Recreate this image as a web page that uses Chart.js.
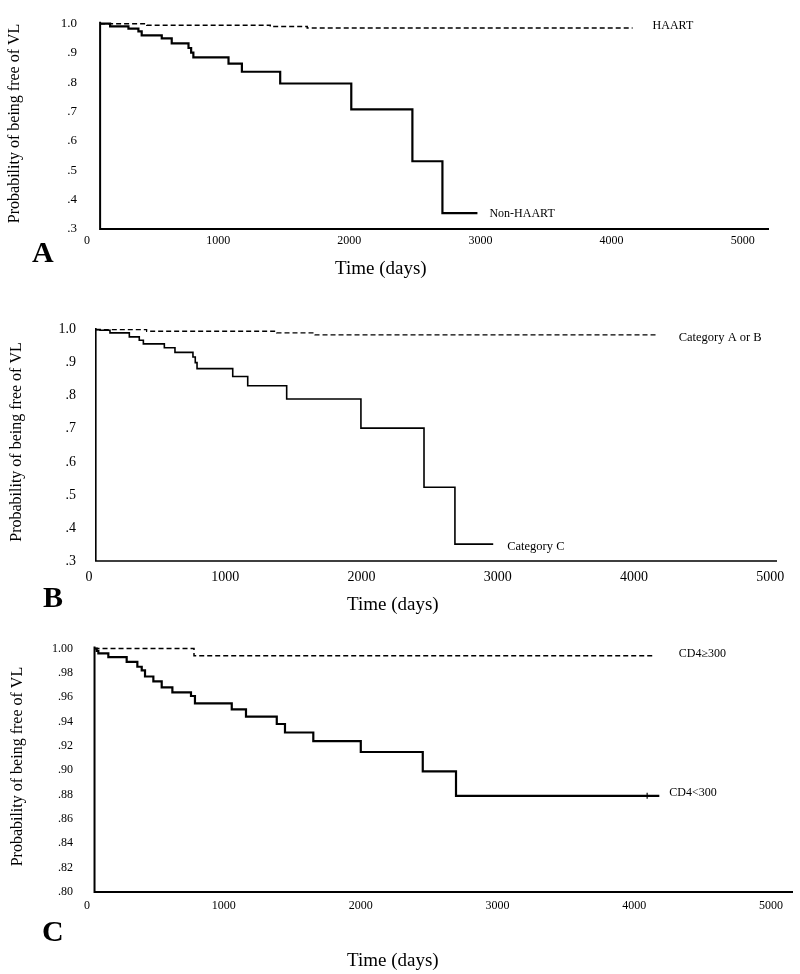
<!DOCTYPE html>
<html><head><meta charset="utf-8">
<script src="https://cdn.jsdelivr.net/npm/chart.js@4.4.1/dist/chart.umd.min.js"></script>
<style>
html,body{margin:0;padding:0;background:#fff;}
body{width:800px;height:974px;position:relative;overflow:hidden;font-family:"Liberation Serif","Times New Roman",serif;color:#000;}
.panel{position:absolute;left:0;width:800px;}
.letter{position:absolute;font-weight:bold;font-size:30px;line-height:30px;}
.xt{position:absolute;font-size:19px;line-height:19px;white-space:nowrap;}
</style></head><body>
<div class="panel" style="top:0;height:290px"><canvas id="cA" width="800" height="290"></canvas></div>
<div class="panel" style="top:290px;height:330px"><canvas id="cB" width="800" height="330"></canvas></div>
<div class="panel" style="top:620px;height:354px"><canvas id="cC" width="800" height="354"></canvas></div>
<div class="letter" style="left:32px;top:237px">A</div>
<div class="letter" style="left:43px;top:582px">B</div>
<div class="letter" style="left:42px;top:916px">C</div>
<div class="xt" style="left:335px;top:258px">Time (days)</div>
<div class="xt" style="left:347px;top:594px">Time (days)</div>
<div class="xt" style="left:347px;top:950px">Time (days)</div>
<script>
// ---------- data ----------
const xTickDays = [0, 1000, 2000, 3000, 4000, 5000];
const yTicksAB = [0.3, 0.4, 0.5, 0.6, 0.7, 0.8, 0.9, 1.0];
const yTicksC = [0.80, 0.82, 0.84, 0.86, 0.88, 0.90, 0.92, 0.94, 0.96, 0.98, 1.00];

// Panel A
const haartDays = [100, 456, 1397, 1679, 4160];
const haartSurv = [1.0, 0.995, 0.990, 0.985, 0.985];
const nonHaartDays = [100, 176, 316, 392, 417, 570, 646, 774, 794, 811, 1079, 1181, 1473, 2015, 2481, 2710, 2977];
const nonHaartSurv = [1.0, 0.991, 0.983, 0.974, 0.960, 0.950, 0.933, 0.917, 0.901, 0.885, 0.864, 0.836, 0.796, 0.708, 0.531, 0.354, 0.354];

// Panel B
const catABDays = [50, 423, 1377, 1659, 4167];
const catABSurv = [1.0, 0.995, 0.990, 0.984, 0.984];
const catCDays = [50, 81, 154, 296, 369, 399, 553, 631, 763, 780, 793, 1055, 1165, 1451, 1996, 2459, 2686, 2967];
const catCSurv = [1.0, 0.998, 0.990, 0.978, 0.968, 0.957, 0.945, 0.931, 0.917, 0.900, 0.882, 0.858, 0.830, 0.790, 0.702, 0.523, 0.351, 0.351];

// Panel C
const cd4HighDays = [55, 782, 4150];
const cd4HighSurv = [1.0, 0.994, 0.994];
const cd4LowDays = [55, 71, 83, 156, 290, 368, 400, 424, 485, 546, 624, 760, 789, 1058, 1162, 1387, 1447, 1654, 2001, 2454, 2697, 4183];
const cd4LowSurv = [1.0, 0.998, 0.996, 0.993, 0.989, 0.985, 0.982, 0.977, 0.973, 0.968, 0.964, 0.961, 0.955, 0.950, 0.944, 0.938, 0.931, 0.924, 0.915, 0.899, 0.879, 0.879];
const cd4LowCensorDays = [4094];
const cd4LowCensorSurv = [0.879];

const seriesNames = ["HAART", "Non-HAART", "Category A or B", "Category C", "CD4\u2265300", "CD4<300"];
const yTitle = "Probability of being free of VL";

// ---------- helpers ----------
const zip = (xs, ys) => xs.map((x, i) => ({x: x, y: ys[i]}));
const SERIF = "'Liberation Serif','Times New Roman',serif";

const kmDecor = {
  id: 'kmDecor',
  afterDatasetsDraw(chart, args, opts) {
    const ctx = chart.ctx, x = chart.scales.x, y = chart.scales.y;
    const x0 = x.getPixelForValue(opts.originDay);
    const yTop = y.getPixelForValue(1.0);
    const yBot = y.getPixelForValue(y.min);
    ctx.save();
    ctx.strokeStyle = '#000';
    ctx.lineWidth = opts.axisWidth;
    ctx.beginPath();
    ctx.moveTo(x0, yTop - opts.axisWidth);
    ctx.lineTo(x0, yBot);
    ctx.lineTo(x.right, yBot);
    ctx.stroke();
    ctx.fillStyle = '#000';
    ctx.font = opts.labelSize + 'px ' + SERIF;
    ctx.textBaseline = 'middle';
    ctx.textAlign = 'left';
    (opts.labels || []).forEach(l => {
      const d = chart.data.datasets[l.dataset].data;
      const last = d[d.length - 1];
      ctx.fillText(l.text, x.getPixelForValue(last.x) + l.dx, y.getPixelForValue(last.y) + l.dy);
    });
    ctx.restore();
  }
};

function makePanel(id, p) {
  return new Chart(document.getElementById(id), {
    type: 'line',
    data: { datasets: p.datasets },
    options: {
      responsive: false,
      animation: false,
      events: [],
      layout: { padding: { left: 0, right: p.padRight, top: p.padTop, bottom: 0 } },
      elements: { point: { radius: 0 } },
      plugins: {
        legend: { display: false },
        tooltip: { enabled: false },
        kmDecor: p.decor
      },
      scales: {
        x: {
          type: 'linear', min: 0, max: p.xMax,
          afterBuildTicks: s => { s.ticks = xTickDays.map(v => ({value: v})); },
          afterFit: s => { s.height = p.xAxisH; },
          grid: { display: false, drawTicks: false },
          border: { display: false },
          ticks: { color: '#000', padding: p.xTickPad, maxRotation: 0, font: { family: SERIF, size: p.xTickSize }, callback: v => String(v) }
        },
        y: {
          type: 'linear', min: p.yMin, max: p.yMax,
          afterBuildTicks: s => { s.ticks = p.yTicks.map(v => ({value: v})); },
          afterFit: s => { s.width = p.yAxisW; },
          grid: { display: false, drawTicks: false },
          border: { display: false },
          ticks: { color: '#000', padding: p.yTickPad, font: { family: SERIF, size: p.yTickSize },
                   callback: v => v.toFixed(p.yDec).replace(/^0/, '') },
          title: { display: true, text: yTitle, color: '#000', font: { family: SERIF, size: 16 }, padding: { top: p.yTitlePad, bottom: 0 } }
        }
      }
    },
    plugins: [kmDecor]
  });
}

const dashStyle = w => ({ borderColor: '#000', borderWidth: w, borderDash: [5, 3], stepped: true, fill: false, pointRadius: 0 });
const solidStyle = w => ({ borderColor: '#000', borderWidth: w, stepped: true, fill: false, pointRadius: 0 });

makePanel('cA', {
  datasets: [
    Object.assign({ label: seriesNames[0], data: zip(haartDays, haartSurv) }, dashStyle(1.5)),
    Object.assign({ label: seriesNames[1], data: zip(nonHaartDays, nonHaartSurv) }, solidStyle(2.2))
  ],
  xMax: 5200, yMin: 0.3, yMax: 1.02, yTicks: yTicksAB, yDec: 1,
  padRight: 31, padTop: 5, xAxisH: 61, yAxisW: 87,
  xTickPad: 5, xTickSize: 12, yTickPad: 10, yTickSize: 13, yTitlePad: 5,
  decor: { originDay: haartDays[0], axisWidth: 2, labelSize: 12,
    labels: [ {dataset: 0, text: seriesNames[0], dx: 20, dy: -2}, {dataset: 1, text: seriesNames[1], dx: 12, dy: 1} ] }
});

makePanel('cB', {
  datasets: [
    Object.assign({ label: seriesNames[2], data: zip(catABDays, catABSurv) }, dashStyle(1.3)),
    Object.assign({ label: seriesNames[3], data: zip(catCDays, catCSurv) }, solidStyle(1.6))
  ],
  xMax: 5050, yMin: 0.3, yMax: 1.02, yTicks: yTicksAB, yDec: 1,
  padRight: 23, padTop: 33, xAxisH: 59, yAxisW: 89,
  xTickPad: 8, xTickSize: 14, yTickPad: 13, yTickSize: 14, yTitlePad: 7,
  decor: { originDay: catABDays[0], axisWidth: 1.6, labelSize: 12.5,
    labels: [ {dataset: 0, text: seriesNames[2], dx: 22, dy: 3}, {dataset: 1, text: seriesNames[3], dx: 14, dy: 3} ] }
});

makePanel('cC', {
  datasets: [
    Object.assign({ label: seriesNames[4], data: zip(cd4HighDays, cd4HighSurv) }, dashStyle(1.5)),
    Object.assign({ label: seriesNames[5], data: zip(cd4LowDays, cd4LowSurv) }, solidStyle(2.2)),
    { label: 'censored', data: zip(cd4LowCensorDays, cd4LowCensorSurv), showLine: false,
      pointStyle: 'line', rotation: 90, pointRadius: 3, pointBorderColor: '#000', pointBorderWidth: 1.2 }
  ],
  xMax: 5160, yMin: 0.80, yMax: 1.006, yTicks: yTicksC, yDec: 2,
  padRight: 7, padTop: 20, xAxisH: 82, yAxisW: 87,
  xTickPad: 7, xTickSize: 12, yTickPad: 14, yTickSize: 12, yTitlePad: 8,
  decor: { originDay: cd4HighDays[0], axisWidth: 2, labelSize: 12,
    labels: [ {dataset: 0, text: seriesNames[4], dx: 24, dy: -2}, {dataset: 1, text: seriesNames[5], dx: 10, dy: -3} ] }
});
</script>
</body></html>
